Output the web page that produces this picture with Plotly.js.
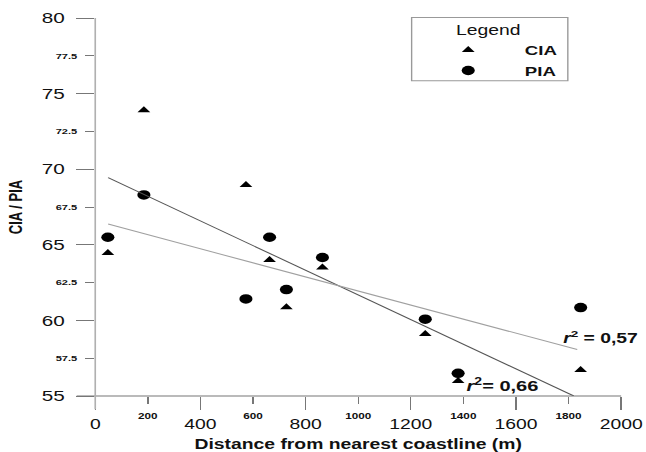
<!DOCTYPE html>
<html><head><meta charset="utf-8">
<script src="https://cdn.plot.ly/plotly-3.0.1.min.js"></script>
<style>
html,body{margin:0;padding:0;background:#fff;overflow:hidden}
#wrap{width:646px;height:452px;overflow:hidden}
#chart{width:468px;height:452px;transform:scaleX(1.38034);transform-origin:0 0}
</style>
</head><body><div id="wrap"><div id="chart"></div></div>
<script>
// Data
const distance = [48, 185, 573, 663, 727, 864, 1255, 1380, 1846];
const cia = [64.45, 73.9, 68.95, 64.0, 60.87, 63.5, 59.1, 56.0, 56.72];
const pia = [65.5, 68.3, 61.42, 65.5, 62.04, 64.16, 60.08, 56.5, 60.85];
const ciaFitX = [49, 1820];
const ciaFitY = [69.44, 55.0];
const piaFitX = [49, 1833];
const piaFitY = [66.37, 58.07];
const xMajor = [0, 400, 800, 1200, 1600, 2000];
const xMinor = [200, 600, 1000, 1400, 1800];
const yMajor = [55, 60, 65, 70, 75, 80];
const yMinor = [57.5, 62.5, 67.5, 72.5, 77.5];
const yMajorText = ['55', '60', '65', '70', '75', '80'];
const yMinorText = ['57.5', '62.5', '67.5', '72.5', '77.5'];
const r2Text = ['<i>r</i><sup>2</sup> = 0,57', '<i>r</i><sup>2</sup>= 0,66'];
const r2X = [1923, 1551];
const r2Y = [58.9, 55.73];

const F = 'Liberation Sans, Arial, sans-serif';
const tickCol = '#777';

const traces = [
  {x: distance, y: cia, name: 'CIA', type: 'scatter', mode: 'markers', cliponaxis: false,
   marker: {symbol: 'triangle-up', size: 8, color: '#000'}},
  {x: distance, y: pia, name: 'PIA', type: 'scatter', mode: 'markers', cliponaxis: false,
   marker: {symbol: 'circle', size: 9.5, color: '#000'}},
  {x: ciaFitX, y: ciaFitY, type: 'scatter', mode: 'lines', showlegend: false, cliponaxis: false,
   line: {color: '#555', width: 1}},
  {x: piaFitX, y: piaFitY, type: 'scatter', mode: 'lines', showlegend: false, cliponaxis: false,
   line: {color: '#a0a0a0', width: 1}},
  // invisible helpers so the overlaid minor-label axes are drawn
  {x: distance, y: cia, xaxis: 'x2', yaxis: 'y', type: 'scatter', mode: 'markers', showlegend: false,
   marker: {opacity: 0}, hoverinfo: 'skip'},
  {x: distance, y: pia, xaxis: 'x', yaxis: 'y2', type: 'scatter', mode: 'markers', showlegend: false,
   marker: {opacity: 0}, hoverinfo: 'skip'}
];

const layout = {
  width: 468, height: 452,
  margin: {l: 69, r: 17.6, t: 18.3, b: 56},
  paper_bgcolor: '#fff', plot_bgcolor: '#fff',
  font: {family: F, color: '#111'},
  showlegend: true,
  xaxis: {
    range: [0, 2000], showgrid: false, zeroline: false, showline: false,
    tickmode: 'array', tickvals: xMajor, ticktext: xMajor.map(String),
    ticks: 'outside', ticklen: 13, tickwidth: 1, tickcolor: tickCol, ticklabelstandoff: 2,
    tickfont: {family: F, size: 14, color: '#111'},
    title: {text: '<b>Distance from nearest coastline (m)</b>', font: {family: F, size: 14, color: '#111'}, standoff: 12},
    automargin: false
  },
  xaxis2: {
    range: [0, 2000], overlaying: 'x', anchor: 'y', side: 'bottom',
    showgrid: false, zeroline: false, showline: false,
    tickmode: 'array', tickvals: xMinor, ticktext: xMinor.map(String),
    ticks: 'outside', ticklen: 7, tickwidth: 1, tickcolor: tickCol, ticklabelstandoff: 5,
    tickfont: {family: F, size: 8.5, color: '#111', weight: 'bold'},
    automargin: false
  },
  yaxis: {
    range: [55, 80], showgrid: false, zeroline: false, showline: false,
    tickmode: 'array', tickvals: yMajor, ticktext: yMajorText,
    ticks: 'outside', ticklen: 13, tickwidth: 1, tickcolor: tickCol, ticklabelstandoff: 5,
    tickfont: {family: F, size: 15, color: '#111'},
    title: {text: '<b>CIA / PIA</b>', font: {family: F, size: 13, color: '#111'}, standoff: 10},
    automargin: false
  },
  yaxis2: {
    range: [55, 80], overlaying: 'y', anchor: 'x', side: 'left',
    showgrid: false, zeroline: false, showline: false,
    tickmode: 'array', tickvals: yMinor, ticktext: yMinorText,
    ticks: 'outside', ticklen: 6.5, tickwidth: 1, tickcolor: tickCol, ticklabelstandoff: 4,
    tickfont: {family: F, size: 8, color: '#111', weight: 'bold'},
    automargin: false
  },
  legend: {
    x: 0.6016, y: 1.004, xanchor: 'left', yanchor: 'top',
    bgcolor: 'rgba(0,0,0,0)', borderwidth: 0,
    itemwidth: 72, tracegroupgap: 0,
    font: {family: F, size: 13.5, color: '#111', weight: 'bold'},
    title: {text: 'Legend', side: 'top center', font: {family: F, size: 14, color: '#111', weight: 'normal'}}
  },
  annotations: r2Text.map((t, i) => ({
    x: r2X[i], y: r2Y[i], xref: 'x', yref: 'y', text: '<b>' + t + '</b>', showarrow: false,
    xanchor: 'center', yanchor: 'middle', font: {family: F, size: i === 0 ? 14 : 14.5, color: '#111'}
  })),
  shapes: [
    {type: 'line', xref: 'paper', yref: 'paper', x0: -0.0353, x1: 1, y0: 0, y1: 0,
     line: {color: '#777', width: 1}, layer: 'above'},
    {type: 'line', xref: 'paper', yref: 'paper', x0: 0, x1: 0, y0: -0.035, y1: 1,
     line: {color: '#b0b0b0', width: 1.2}, layer: 'above'},
    {type: 'rect', xref: 'paper', yref: 'paper', x0: 0.6016, x1: 0.8986, y0: 0.834, y1: 1.0016,
     line: {color: '#999', width: 1}, fillcolor: '#fff', layer: 'above'}
  ]
};

Plotly.newPlot('chart', traces, layout, {staticPlot: true, displayModeBar: false});
</script>
</body></html>
